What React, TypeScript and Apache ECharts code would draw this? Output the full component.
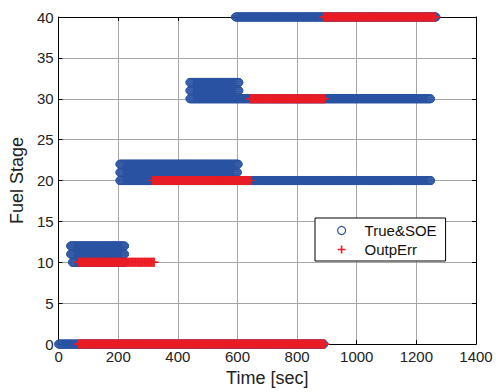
import React, { useEffect, useRef } from "react";
import * as echarts from "echarts";

// Sampling period of the logged data (seconds between samples)
const SAMPLE_PERIOD = 2;

// True & SOE estimate: [start time (s), end time (s), fuel stage]
const trueSoeSegments: [number, number, number][] = [
  [0, 890, 0],
  [46, 222, 10],
  [40, 222, 11],
  [40, 222, 12],
  [205, 1248, 20],
  [205, 600, 21],
  [205, 603, 22],
  [440, 1248, 30],
  [440, 605, 31],
  [440, 605, 32],
  [593, 1266, 40],
];

// Output-error estimate: [start time (s), end time (s), fuel stage]
const outpErrSegments: [number, number, number][] = [
  [66, 893, 0],
  [66, 321, 10],
  [315, 645, 20],
  [643, 892, 30],
  [888, 1265, 40],
];

const xTickValues = [0, 200, 400, 600, 800, 1000, 1200, 1400];
const yTickValues = [0, 5, 10, 15, 20, 25, 30, 35, 40];

const seriesNames = ["True&SOE", "OutpErr"];

const BLUE = "#2A52A3";
const RED = "#EC1C24";
const PLUS = "path://M4.4,0H5.6V10H4.4Z M0,4.4H10V5.6H0Z";
const LEGEND_PLUS = "path://M4,0H6V10H4Z M0,4H10V6H0Z";

function expand(segs: [number, number, number][]) {
  const out: [number, number][] = [];
  for (const [a, b, s] of segs) {
    for (let t = a; t < b; t += SAMPLE_PERIOD) out.push([t, s]);
    out.push([b, s]);
  }
  return out;
}

export default function App() {
  const ref = useRef<HTMLDivElement>(null);
  useEffect(() => {
    if (!ref.current) return;
    const chart = echarts.init(ref.current, undefined, { renderer: "svg" });
    const font = "'Liberation Sans', Arial, sans-serif";
    const xMin = xTickValues[0];
    const xMax = xTickValues[xTickValues.length - 1];
    const xInt = xTickValues[1] - xTickValues[0];
    const yMin = yTickValues[0];
    const yMax = yTickValues[yTickValues.length - 1];
    const yInt = yTickValues[1] - yTickValues[0];
    const axisCommon = {
      type: "value" as const,
      axisLine: { show: true, onZero: false, lineStyle: { color: "#000", width: 1 } },
      axisTick: { show: true, inside: true, length: 4, lineStyle: { color: "#000" } },
    };
    chart.setOption({
      animation: false,
      backgroundColor: "#fff",
      textStyle: { fontFamily: font },
      grid: { left: 53, right: 20, top: 17, bottom: 44 },
      legend: {
        orient: "vertical",
        left: 315,
        top: 218,
        backgroundColor: "#fff",
        borderColor: "#000",
        borderWidth: 1,
        borderRadius: 0,
        padding: [5, 9, 4, 22],
        itemGap: 4,
        itemWidth: 8,
        itemHeight: 8,
        textStyle: { fontSize: 15, color: "#111", padding: [0, 0, 0, 14], fontFamily: font },
        data: [
          {
            name: seriesNames[0],
            icon: "circle",
            itemStyle: { color: "#fff", borderColor: BLUE, borderWidth: 1.2 },
          },
          {
            name: seriesNames[1],
            icon: LEGEND_PLUS,
            itemStyle: { color: RED, borderColor: RED, borderWidth: 0 },
          },
        ],
      },
      xAxis: [
        {
          ...axisCommon,
          position: "bottom",
          min: xMin,
          max: xMax,
          interval: xInt,
          name: "Time [sec]",
          nameLocation: "middle",
          nameGap: 22,
          nameTextStyle: { fontSize: 18, color: "#222", fontFamily: font },
          axisLabel: {
            fontSize: 15,
            color: "#222",
            margin: 5,
            fontFamily: font,
            formatter: (v: number) => String(v),
          },
          splitLine: { show: true, lineStyle: { color: "#a6a6a6", width: 1 } },
        },
        {
          ...axisCommon,
          position: "top",
          min: xMin,
          max: xMax,
          interval: xInt,
          axisLabel: { show: false },
          splitLine: { show: false },
        },
      ],
      yAxis: [
        {
          ...axisCommon,
          position: "left",
          min: yMin,
          max: yMax,
          interval: yInt,
          name: "Fuel Stage",
          nameLocation: "middle",
          nameGap: 29,
          nameTextStyle: { fontSize: 18, color: "#222", fontFamily: font },
          axisLabel: {
            fontSize: 15,
            color: "#222",
            margin: 5,
            fontFamily: font,
            formatter: (v: number) => String(v),
          },
          splitLine: { show: true, lineStyle: { color: "#a6a6a6", width: 1 } },
        },
        {
          ...axisCommon,
          position: "right",
          min: yMin,
          max: yMax,
          interval: yInt,
          axisLabel: { show: false },
          splitLine: { show: false },
        },
      ],
      series: [
        {
          name: seriesNames[0],
          type: "scatter",
          large: false,
          progressive: 0,
          symbol: "circle",
          symbolSize: 8,
          itemStyle: { color: "rgba(255,255,255,0)", borderColor: BLUE, borderWidth: 1, opacity: 1 },
          emphasis: { disabled: true },
          data: expand(trueSoeSegments),
        },
        {
          name: seriesNames[1],
          type: "scatter",
          large: false,
          progressive: 0,
          symbol: PLUS,
          symbolSize: 9,
          itemStyle: { color: RED, opacity: 1 },
          emphasis: { disabled: true },
          data: expand(outpErrSegments),
        },
      ],
    });
    return () => chart.dispose();
  }, []);
  return (
    <div
      ref={ref}
      style={{ position: "absolute", left: 0, top: 0, width: 496, height: 392, background: "#fff" }}
    />
  );
}
